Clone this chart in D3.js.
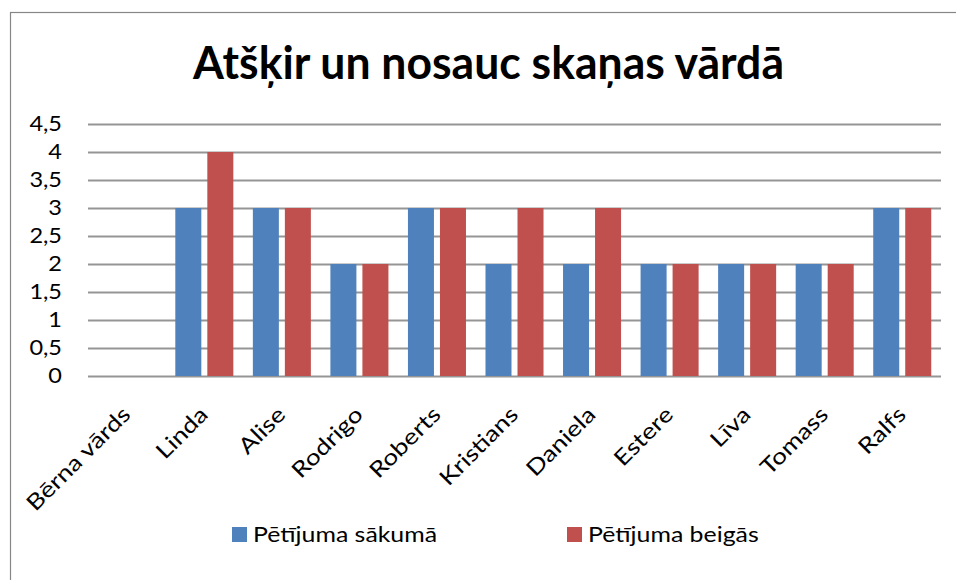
<!DOCTYPE html>
<html><head><meta charset="utf-8">
<script src="https://cdn.jsdelivr.net/npm/d3@7"></script>
<style>
body{margin:0;background:#fff}
svg{display:block}
text{font-family:Lato,"Open Sans",sans-serif;fill:#000}
</style>
</head><body>
<svg id="c" width="956" height="580"></svg>
<script>
const title = "Atšķir un nosauc skaņas vārdā";
const categories = ["Bērna vārds","Linda","Alise","Rodrigo","Roberts","Kristians","Daniela","Estere","Līva","Tomass","Ralfs"];
const seriesNames = ["Pētījuma sākumā","Pētījuma beigās"];
const startValues = [null,3,3,2,3,2,2,2,2,2,3];
const endValues   = [null,4,3,2,3,3,3,2,2,2,3];
const yTicks = [0,0.5,1,1.5,2,2.5,3,3.5,4,4.5];
const colors = ["#4f81bd","#c0504d"];

const svg = d3.select("#c");
const plot = {left:88, right:941, top:124, bottom:376};

function stretch(sel, k){
  sel.each(function(){
    const w = this.getComputedTextLength();
    d3.select(this).attr("textLength", w*k).attr("lengthAdjust","spacingAndGlyphs");
  });
}

// chart border
svg.append("rect").attr("x",10.5).attr("y",12.5).attr("width",1000).attr("height",1000)
  .attr("fill","#fff").attr("stroke","#868686").attr("stroke-width",1.2);

// title
svg.append("text").attr("x",488.5).attr("y",79).attr("text-anchor","middle")
  .attr("font-size",45).attr("font-weight","bold").text(title)
  .attr("textLength",591).attr("lengthAdjust","spacingAndGlyphs");

const x = d3.scaleBand().domain(categories).range([plot.left, plot.right]);
const xs = d3.scaleBand().domain(seriesNames).range([0, x.bandwidth()])
  .paddingInner(0.1875).paddingOuter(0.305);
const y = d3.scaleLinear().domain([0,4.5]).range([plot.bottom, plot.top]);

// y axis with gridlines
const yAxis = d3.axisLeft(y).tickValues(yTicks)
  .tickSize(-(plot.right-plot.left)).tickPadding(26)
  .tickFormat(d => String(d).replace(".", ","));
const gy = svg.append("g").attr("transform",`translate(${plot.left},0)`).call(yAxis);
gy.select(".domain").remove();
gy.selectAll(".tick line").attr("stroke","#959595").attr("stroke-width",2);
gy.selectAll(".tick text").attr("font-size",21).attr("font-family","Lato").attr("fill","#000");
stretch(gy.selectAll(".tick text"), 1.12);

// bars
const seriesValues = [startValues, endValues];
seriesNames.forEach((s, j) => {
  svg.append("g").selectAll("rect")
    .data(categories.map((c,i)=>({c, v: seriesValues[j][i]})).filter(d => d.v != null))
    .join("rect")
    .attr("x", d => x(d.c) + xs(s))
    .attr("width", xs.bandwidth())
    .attr("y", d => y(d.v))
    .attr("height", d => y(0) - y(d.v))
    .attr("fill", colors[j]);
});

// x labels rotated
const xl = svg.append("g").selectAll("text").data(categories).join("text")
  .attr("transform", d => `translate(${x(d) + x.bandwidth()/2 + 5},${plot.bottom + 40}) rotate(-45)`)
  .attr("text-anchor","end").attr("font-size",22).text(d => d);
stretch(xl, 1.2);

// legend
const lg = svg.append("g").selectAll("g").data(seriesNames).join("g")
  .attr("transform", (d,i) => `translate(${232 + i*335},527)`);
lg.append("rect").attr("width",15).attr("height",15).attr("fill",(d,i)=>colors[i]);
const lt = lg.append("text").attr("x",21).attr("y",14.5).attr("font-size",22).text(d=>d);
stretch(lt, 1.13);
</script>
</body></html>
